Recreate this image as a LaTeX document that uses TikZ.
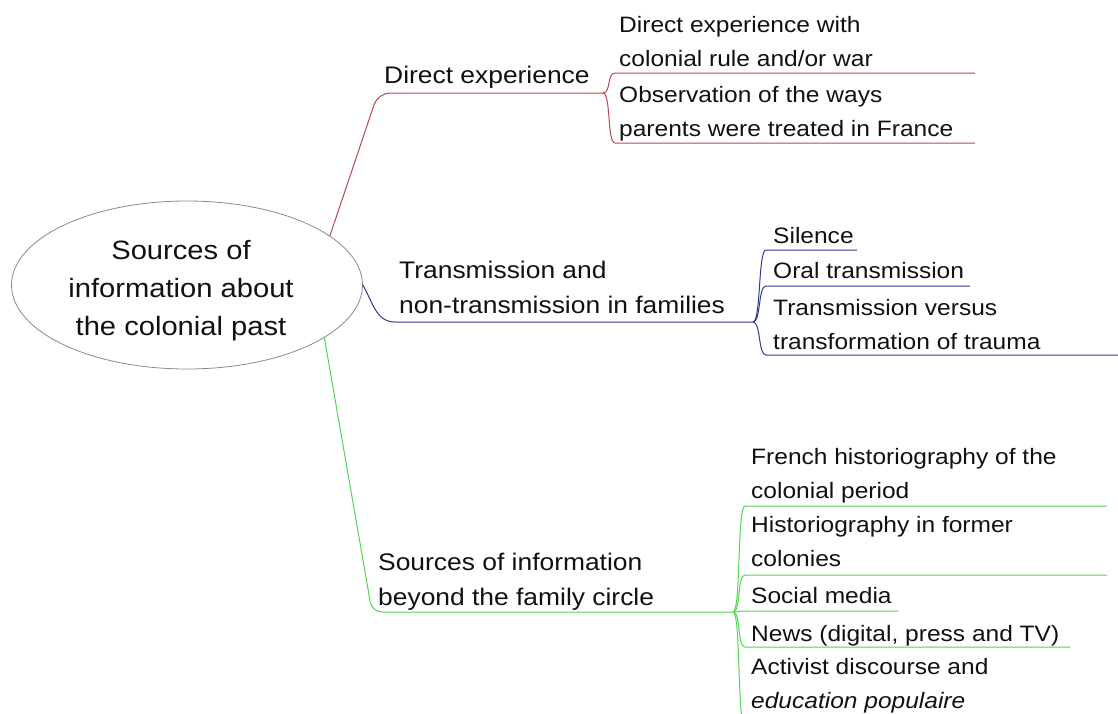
\documentclass[tikz,border=0pt]{standalone}
\usepackage{fontspec}
\setmainfont{Liberation Sans}[FakeStretch=1.1]
\usepackage{tikz}
\usetikzlibrary{positioning,shapes.geometric}
\definecolor{ink}{HTML}{111111}
\definecolor{rimgray}{HTML}{8A8A8A}
\definecolor{branchred}{HTML}{B8494D}
\definecolor{branchblue}{HTML}{2E3A8C}
\definecolor{branchgreen}{HTML}{52D452}
\tikzset{
  rootnode/.style={draw=rimgray,ellipse,line width=0.8pt,
                   minimum width=351pt,minimum height=168pt,inner sep=0pt},
  roottext/.style={inner sep=0pt,align=center,text=ink,
                   font=\fontsize{26.5}{38}\selectfont},
  branchtext/.style={anchor=base west,inner sep=0pt,align=left,text=ink,
                     font=\fontsize{24}{35}\selectfont},
  leaftext/.style={anchor=base west,inner sep=0pt,align=left,text=ink,
                   font=\fontsize{22.3}{34}\selectfont},
  redline/.style={draw=branchred,line width=1pt},
  blueline/.style={draw=branchblue,line width=1pt},
  greenline/.style={draw=branchgreen,line width=1pt},
  twig/.style={out=0,in=180,out distance=8pt,in distance=8pt}
}

\begin{document}
\begin{tikzpicture}[x=1pt,y=1pt]
      \useasboundingbox (0,0) rectangle (1118,-713);
      \clip (0,0) rectangle (1118,-713);
      \node[rootnode] (root) at (187,-285) {};
      \node[roottext] (roottitle) at (181,-291) {Sources of\\information about\\the colonial past};

      \node[branchtext] (direct) at (384,-83) {Direct experience};
      \node[branchtext] (family) at (399,-313) {Transmission and\\non-transmission in families};
      \node[branchtext] (beyond) at (378,-605) {Sources of information\\beyond the family circle};
      \coordinate (directv) at (603,-93);
      \coordinate (familyv) at (753,-322);
      \coordinate (beyondv) at (733,-612);
      \draw[redline,rounded corners=12pt] (root.19) -- (378,-93) -- (directv);
      \draw[blueline] (root.0) to[out=-60,in=180] (395,-322) -- (familyv);
      \draw[greenline,rounded corners=10pt] (root.-21) -- (372,-612) -- (beyondv);

      \node[leaftext] (colrule) at (619,-66) {Direct experience with\\colonial rule and/or war};
      \node[leaftext] (parents) at (619,-136) {Observation of the ways\\parents were treated in France};
      \coordinate (colrule-a) at (615,-73);
      \coordinate (colrule-b) at (975,-73);
      \coordinate (parents-a) at (615,-143);
      \coordinate (parents-b) at (975,-143);
      \draw[redline] (directv) to[twig] (colrule-a) -- (colrule-b);
      \draw[redline] (directv) to[twig] (parents-a) -- (parents-b);

      \node[leaftext] (silence) at (773,-243) {Silence};
      \node[leaftext] (oral) at (773,-278) {Oral transmission};
      \node[leaftext] (trauma) at (773,-349) {Transmission versus\\transformation of trauma};
      \coordinate (silence-a) at (766,-250);
      \coordinate (silence-b) at (857,-250);
      \coordinate (oral-a) at (766,-286);
      \coordinate (oral-b) at (970,-286);
      \coordinate (trauma-a) at (766,-355);
      \coordinate (trauma-b) at (1118,-355);
      \draw[blueline] (familyv) to[twig] (silence-a) -- (silence-b);
      \draw[blueline] (familyv) to[twig] (oral-a) -- (oral-b);
      \draw[blueline] (familyv) to[twig] (trauma-a) -- (trauma-b);

      \node[leaftext] (french) at (751,-498) {French historiography of the\\colonial period};
      \node[leaftext] (former) at (751,-566) {Historiography in former\\colonies};
      \node[leaftext] (social) at (751,-603) {Social media};
      \node[leaftext] (news) at (751,-641) {News (digital, press and TV)};
      \node[leaftext] (activist) at (751,-708) {Activist discourse and\\\textit{education populaire}};
      \coordinate (french-a) at (745,-506);
      \coordinate (french-b) at (1107,-506);
      \coordinate (former-a) at (745,-575);
      \coordinate (former-b) at (1107,-575);
      \coordinate (social-a) at (745,-611);
      \coordinate (social-b) at (898,-611);
      \coordinate (news-a) at (745,-647);
      \coordinate (news-b) at (1070,-647);
      \coordinate (activist-a) at (745,-726);
      \coordinate (activist-b) at (1107,-726);
      \draw[greenline] (beyondv) to[twig] (french-a) -- (french-b);
      \draw[greenline] (beyondv) to[twig] (former-a) -- (former-b);
      \draw[greenline] (beyondv) to[twig] (social-a) -- (social-b);
      \draw[greenline] (beyondv) to[twig] (news-a) -- (news-b);
      \draw[greenline] (beyondv) to[twig] (activist-a) -- (activist-b);
    \end{tikzpicture}
\end{document}
